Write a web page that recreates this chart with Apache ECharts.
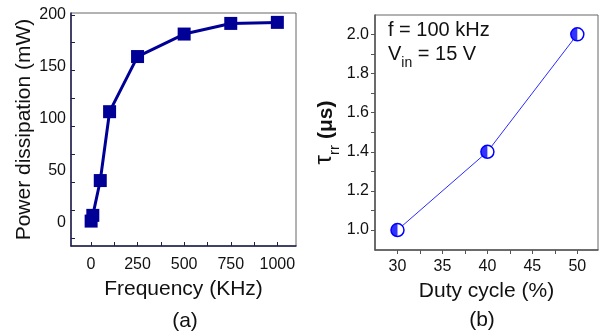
<!DOCTYPE html>
<html>
<head>
<meta charset="utf-8">
<script src="https://cdn.jsdelivr.net/npm/echarts@6/dist/echarts.min.js"></script>
<style>html,body{margin:0;padding:0;background:#fff}#c{width:604px;height:334px}</style>
</head>
<body>
<div id="c"></div>
<script>
// Panel (a)
const freqKHz = [1, 10, 50, 100, 250, 500, 750, 1000];
const powerMW = [1.9, 7.4, 40.8, 106.9, 159.8, 181.4, 191.6, 192.6];
const aXLabels = [0, 250, 500, 750, 1000];
const aXTicks = [0, 125, 250, 375, 500, 625, 750, 875, 1000];
const aYLabels = [0, 50, 100, 150, 200];
const aYTicks = [-14.5, 12.3, 39.1, 65.9, 92.7, 119.5, 146.3, 173.1, 199.9];
// Panel (b)
const dutyCycle = [30, 40, 50];
const tauRR = [1.0, 1.4, 2.0];
const bXLabels = [30, 35, 40, 45, 50];
const bXTicks = [30, 32.5, 35, 37.5, 40, 42.5, 45, 47.5, 50];
const bYLabels = [1.0, 1.2, 1.4, 1.6, 1.8, 2.0];
const bYTicks = [1.0, 1.1, 1.2, 1.3, 1.4, 1.5, 1.6, 1.7, 1.8, 1.9, 2.0];

const FONT = '"Liberation Sans", Arial, sans-serif';
const chart = echarts.init(document.getElementById('c'), null, {renderer: 'canvas'});

const darkAxis = '#1e1e4e';
const option = {
  animation: false,
  textStyle: {fontFamily: FONT},
  grid: [
    {left: 71, top: 13, right: 308, bottom: 88, show: true, borderColor: '#666', borderWidth: 1, backgroundColor: 'transparent'},
    {left: 375, top: 15, right: 6, bottom: 84, show: true, borderColor: '#666', borderWidth: 1, backgroundColor: 'transparent'}
  ],
  xAxis: [
    {
      type: 'value', gridIndex: 0, min: -107, max: 1100,
      name: 'Frequency (KHz)', nameLocation: 'middle', nameGap: 33,
      nameTextStyle: {fontSize: 21, color: '#111', fontFamily: FONT},
      axisLine: {show: true, onZero: false, lineStyle: {color: darkAxis, width: 1.5}},
      axisTick: {show: true, inside: true, length: 4, customValues: aXTicks, lineStyle: {color: darkAxis}},
      axisLabel: {fontSize: 16, color: '#111', margin: 11, customValues: aXLabels, fontFamily: FONT,
        formatter: v => String(v)},
      splitLine: {show: false}
    },
    {
      type: 'value', gridIndex: 1, min: 27.5, max: 52.3,
      name: 'Duty cycle (%)', nameLocation: 'middle', nameGap: 31,
      nameTextStyle: {fontSize: 21, color: '#111', fontFamily: FONT},
      axisLine: {show: true, onZero: false, lineStyle: {color: '#555', width: 1.5}},
      axisTick: {show: true, inside: false, length: 4, customValues: bXTicks, lineStyle: {color: '#555'}},
      axisLabel: {fontSize: 16, color: '#111', margin: 9, customValues: bXLabels, fontFamily: FONT,
        formatter: v => String(v)},
      splitLine: {show: false}
    }
  ],
  yAxis: [
    {
      type: 'value', gridIndex: 0, min: -22, max: 201.6,
      name: 'Power dissipation (mW)', nameLocation: 'middle', nameGap: 36,
      nameTextStyle: {fontSize: 21, color: '#111', fontFamily: FONT},
      axisLine: {show: true, onZero: false, lineStyle: {color: darkAxis, width: 1.5}},
      axisTick: {show: true, inside: true, length: 4, customValues: aYTicks, lineStyle: {color: darkAxis}},
      axisLabel: {fontSize: 16, color: '#111', margin: 5, customValues: aYLabels, fontFamily: FONT,
        formatter: v => String(v)},
      splitLine: {show: false}
    },
    {
      type: 'value', gridIndex: 1, min: 0.898, max: 2.099,
      name: '{t|τ}{s|rr}{b| (μs)}', nameLocation: 'middle', nameGap: 34,
      nameTextStyle: {
        color: '#111', fontFamily: FONT,
        rich: {
          t: {fontSize: 24, fontFamily: FONT, color: '#111', lineHeight: 28, verticalAlign: 'bottom'},
          s: {fontSize: 15, fontFamily: FONT, color: '#111', lineHeight: 28, verticalAlign: 'bottom', padding: [0, 0, -6, 0]},
          b: {fontSize: 21, fontFamily: FONT, fontWeight: 'bold', color: '#111', lineHeight: 28, verticalAlign: 'bottom'}
        }
      },
      axisLine: {show: true, onZero: false, lineStyle: {color: '#555', width: 1.5}},
      axisTick: {show: true, inside: false, length: 4, customValues: bYTicks, lineStyle: {color: '#555'}},
      axisLabel: {fontSize: 16, color: '#111', margin: 6, customValues: bYLabels, fontFamily: FONT,
        formatter: v => v.toFixed(1)},
      splitLine: {show: false}
    }
  ],
  series: [
    {
      type: 'line', xAxisIndex: 0, yAxisIndex: 0,
      data: freqKHz.map((f, i) => [f, powerMW[i]]),
      symbol: 'rect', symbolSize: 13,
      lineStyle: {color: '#000096', width: 3},
      itemStyle: {color: '#000096', borderWidth: 0},
      z: 3
    },
    {
      type: 'line', xAxisIndex: 1, yAxisIndex: 1,
      data: dutyCycle.map((d, i) => [d, tauRR[i]]),
      symbol: 'circle', symbolSize: 13,
      lineStyle: {color: '#2a2aff', width: 1},
      itemStyle: {color: '#fff', borderColor: '#0000ff', borderWidth: 1.5},
      z: 3
    },
    {
      type: 'scatter', xAxisIndex: 1, yAxisIndex: 1,
      data: dutyCycle.map((d, i) => [d, tauRR[i]]),
      symbol: 'path://M10,0 A10,10 0 0,0 10,20 Z', symbolSize: [6.5, 13], symbolOffset: [-3.25, 0],
      itemStyle: {color: '#0000ff'},
      z: 4
    }
  ],
  graphic: [
    {type: 'text', left: 388, top: 20, style: {text: 'f = 100 kHz', font: '20px ' + FONT, fill: '#111'}},
    {type: 'text', left: 388, top: 44, style: {
      text: '{a|V}{s|in}{a| = 15 V}',
      rich: {
        a: {fontSize: 20, fontFamily: FONT, fill: '#111', lineHeight: 24, verticalAlign: 'bottom'},
        s: {fontSize: 14, fontFamily: FONT, fill: '#111', lineHeight: 24, verticalAlign: 'bottom', padding: [0, 0, -6, 0]}
      }
    }},
    {type: 'text', x: 185, y: 321, style: {text: '(a)', font: '21px ' + FONT, fill: '#111', align: 'center', verticalAlign: 'middle'}},
    {type: 'text', x: 482, y: 320, style: {text: '(b)', font: '21px ' + FONT, fill: '#111', align: 'center', verticalAlign: 'middle'}}
  ]
};
chart.setOption(option);
</script>
</body>
</html>
